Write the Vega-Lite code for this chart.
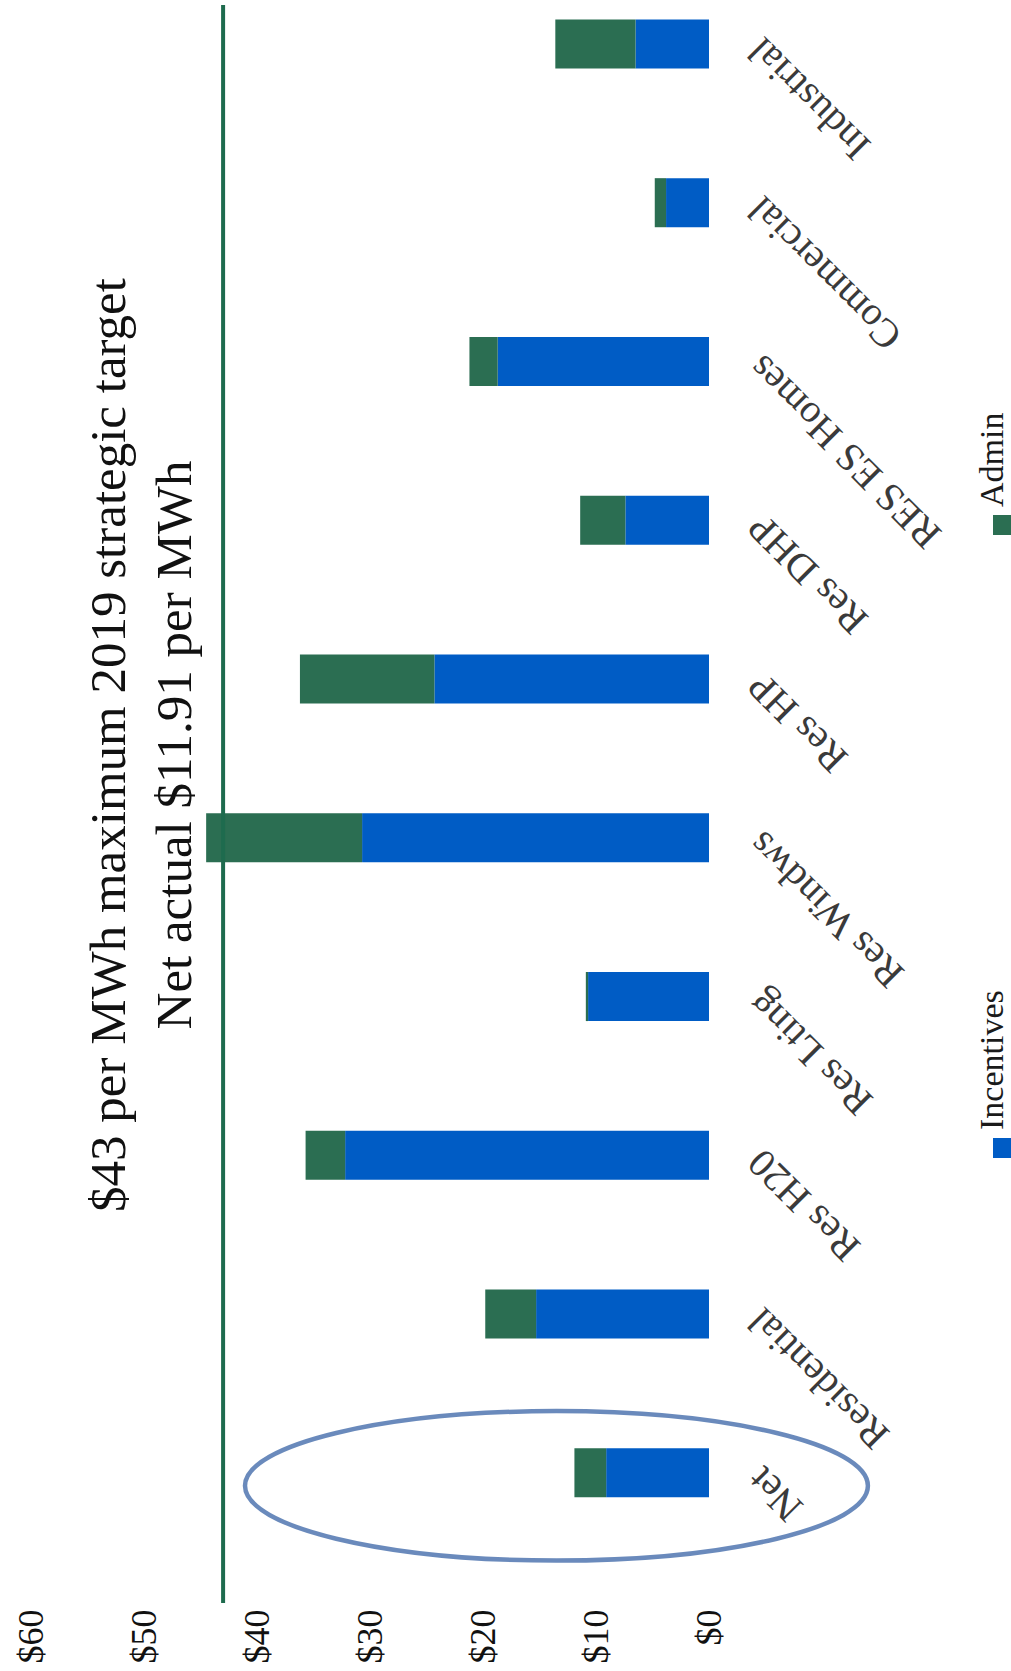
{
  "$schema": "https://vega.github.io/schema/vega-lite/v6.json",
  "autosize": {"type": "none"},
  "padding": {"left": 31, "top": 5, "right": 302, "bottom": 68},
  "width": 678,
  "height": 1598,
  "background": "white",
  "title": {
    "text": ["$43 per MWh maximum 2019 strategic target", "Net actual $11.91 per MWh"],
    "orient": "left",
    "anchor": "middle",
    "frame": "group",
    "offset": -189,
    "dx": 59,
    "font": "Liberation Serif",
    "fontSize": 51,
    "fontWeight": "normal",
    "color": "#111111",
    "lineHeight": 66
  },
  "config": {"view": {"stroke": null}, "font": "Liberation Serif"},
  "layer": [
    {
      "data": {
        "values": [
          {"program": "Industrial", "type": "Incentives", "cost": 6.5},
          {"program": "Industrial", "type": "Admin", "cost": 7.1},
          {"program": "Commercial", "type": "Incentives", "cost": 3.8},
          {"program": "Commercial", "type": "Admin", "cost": 1.0},
          {"program": "RES ES Homes", "type": "Incentives", "cost": 18.7},
          {"program": "RES ES Homes", "type": "Admin", "cost": 2.5},
          {"program": "Res DHP", "type": "Incentives", "cost": 7.4},
          {"program": "Res DHP", "type": "Admin", "cost": 4.0},
          {"program": "Res HP", "type": "Incentives", "cost": 24.3},
          {"program": "Res HP", "type": "Admin", "cost": 11.9},
          {"program": "Res Windws", "type": "Incentives", "cost": 30.7},
          {"program": "Res Windws", "type": "Admin", "cost": 13.8},
          {"program": "Res Lting", "type": "Incentives", "cost": 10.7},
          {"program": "Res Lting", "type": "Admin", "cost": 0.2},
          {"program": "Res H20", "type": "Incentives", "cost": 32.2},
          {"program": "Res H20", "type": "Admin", "cost": 3.5},
          {"program": "Residential", "type": "Incentives", "cost": 15.3},
          {"program": "Residential", "type": "Admin", "cost": 4.5},
          {"program": "Net", "type": "Incentives", "cost": 9.1},
          {"program": "Net", "type": "Admin", "cost": 2.81}
        ]
      },
      "mark": {"type": "bar"},
      "encoding": {
        "y": {
          "field": "program",
          "type": "nominal",
          "scale": {
            "domain": ["Industrial", "Commercial", "RES ES Homes", "Res DHP", "Res HP", "Res Windws", "Res Lting", "Res H20", "Residential", "Net"],
            "paddingInner": 0.691,
            "paddingOuter": 0.378,
            "align": 0.12
          },
          "axis": {
            "orient": "right",
            "labelAngle": 225,
            "labelAlign": "right",
            "labelBaseline": "middle",
            "labelFont": "Liberation Serif",
            "labelFontSize": 40,
            "labelColor": "#3a3a3a",
            "labelPadding": 46,
            "labelLimit": 1000,
            "labelOverlap": false,
            "ticks": false,
            "domain": false,
            "grid": false,
            "title": null
          }
        },
        "x": {
          "field": "cost",
          "type": "quantitative",
          "stack": "zero",
          "scale": {"domain": [0, 60], "reverse": true, "nice": false},
          "axis": {
            "orient": "bottom",
            "values": [0, 10, 20, 30, 40, 50, 60],
            "labelExpr": "'$' + datum.value",
            "labelAngle": -90,
            "labelAlign": "right",
            "labelBaseline": "middle",
            "labelFont": "Liberation Serif",
            "labelFontSize": 36,
            "labelColor": "#111111",
            "labelPadding": 6,
            "labelFlush": false,
            "labelOverlap": false,
            "ticks": false,
            "domain": false,
            "grid": false,
            "title": null
          }
        },
        "color": {
          "field": "type",
          "type": "nominal",
          "scale": {"domain": ["Admin", "Incentives"], "range": ["#2B6E52", "#005CC5"]},
          "legend": {
            "orient": "none",
            "legendX": 955,
            "legendY": 503,
            "direction": "vertical",
            "title": null,
            "symbolType": "square",
            "symbolSize": 400,
            "symbolStrokeWidth": 0,
            "labelFont": "Liberation Serif",
            "labelFontSize": 34,
            "labelColor": "#1a1a1a",
            "labelOffset": 0,
            "labelLimit": 1000,
            "rowPadding": 455,
            "encode": {
              "labels": {"update": {"angle": {"value": -90}, "dx": {"value": 18}, "dy": {"value": -27}}}
            }
          }
        },
        "order": {"field": "type", "sort": "descending"}
      }
    },
    {
      "data": {"values": [{}]},
      "mark": {"type": "rule", "color": "#1E6B4E", "strokeWidth": 4},
      "encoding": {"x": {"datum": 43, "type": "quantitative"}}
    },
    {
      "data": {"values": [{}]},
      "mark": {
        "type": "point",
        "shape": "M-1,0A1,0.24,0,1,0,1,0A1,0.24,0,1,0,-1,0",
        "size": 388000,
        "filled": false,
        "stroke": "#2C5AA0",
        "strokeWidth": 4.5,
        "yOffset": 13
      },
      "encoding": {
        "x": {"datum": 13.5, "type": "quantitative"},
        "y": {"datum": "Net", "type": "nominal"}
      }
    }
  ]
}
